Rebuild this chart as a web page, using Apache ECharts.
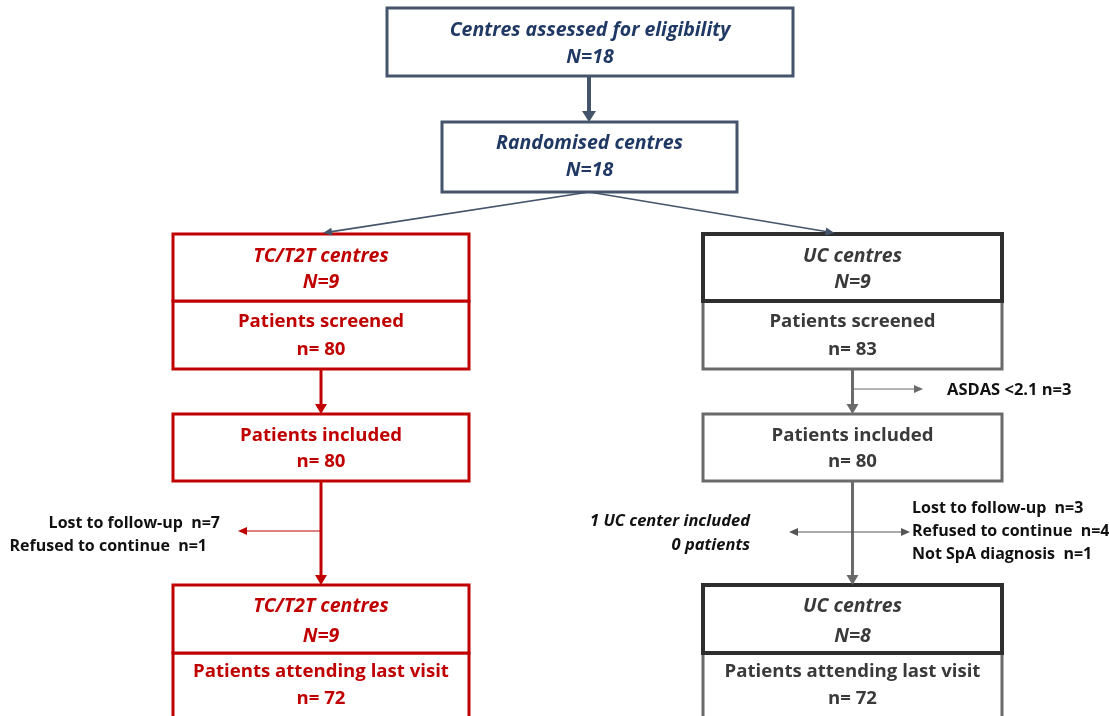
<!DOCTYPE html>
<html><head><meta charset="utf-8">
<script src="https://cdn.jsdelivr.net/npm/echarts@6/dist/echarts.min.js"></script>
<style>html,body{margin:0;padding:0;background:#fff}#c{width:1109px;height:716px}</style>
</head><body><div id="c"></div>
<script>
// ---- data ----
const topLabels = ['Centres assessed for eligibility', 'Randomised centres'];
const topCounts = [18, 18];
const armNames = ['TC/T2T centres', 'UC centres'];
const armCentresStart = [9, 9];
const armCentresEnd = [9, 8];
const stageLabels = ['Patients screened', 'Patients included', 'Patients attending last visit'];
const tcPatients = [80, 80, 72];
const ucPatients = [83, 80, 72];
const ucScreenExclLabels = ['ASDAS <2.1'];
const ucScreenExclCounts = [3];
const tcLossLabels = ['Lost to follow-up', 'Refused to continue'];
const tcLossCounts = [7, 1];
const ucLossLabels = ['Lost to follow-up', 'Refused to continue', 'Not SpA diagnosis'];
const ucLossCounts = [3, 4, 1];
const ucCentreNote = ['1 UC center included', '0 patients'];

// ---- styles ----
const FONT = '"Open Sans", Lato, sans-serif';
const NAVY = '#1f3864', SLATE = '#44546a', RED = '#c00000', DARK = '#2e2e2e', GREY = '#6a6a6a', TXT = '#3a3a3a';

const els = [];
function rect(x, y, w, h, stroke, lw) {
  els.push({type: 'rect', shape: {x, y, width: w, height: h}, style: {fill: '#fff', stroke, lineWidth: lw}, z: 1});
}
function text(t, x, y, color, size, opts) {
  opts = opts || {};
  els.push({type: 'text', z: 5, style: {text: t, x, y, fill: color,
    font: (opts.italic ? 'italic ' : '') + (opts.weight || 'bold') + ' ' + size + 'px ' + FONT,
    textAlign: opts.align || 'center', textVerticalAlign: 'middle'}});
}
function head(x, y, dx, dy, color, len, wid) {
  const L = Math.hypot(dx, dy), ux = dx / L, uy = dy / L, px = -uy, py = ux;
  const bx = x - ux * len, by = y - uy * len;
  els.push({type: 'polygon', z: 3, shape: {points: [[x, y], [bx + px * wid, by + py * wid], [bx - px * wid, by - py * wid]]},
    style: {fill: color}});
}
function arrow(x1, y1, x2, y2, color, lw, len, wid) {
  const L = Math.hypot(x2 - x1, y2 - y1);
  const ex = x2 - (x2 - x1) / L * len * 0.8, ey = y2 - (y2 - y1) / L * len * 0.8;
  els.push({type: 'line', z: 2, shape: {x1, y1, x2: ex, y2: ey}, style: {stroke: color, lineWidth: lw}});
  head(x2, y2, x2 - x1, y2 - y1, color, len, wid);
}

// ---- layout ----
const TOP = {x: 387, y: 8, w: 406, h: 68};
const RAND = {x: 442, y: 122, w: 295, h: 70};
const ARM_X = [173, 703], ARM_W = [296, 299];
const ROW = {armTop: 234, div1: 301, s1Bot: 369, incTop: 414, incBot: 481, endTop: 585, div2: 653, endBot: 760};
const cx = (i) => ARM_X[i] + ARM_W[i] / 2;
const BS = 18.6, IS = 19.5, SS = 16;

// top boxes
rect(TOP.x, TOP.y, TOP.w, TOP.h, SLATE, 3);
text(topLabels[0], TOP.x + TOP.w / 2, 30, NAVY, IS, {italic: true});
text('N=' + topCounts[0], TOP.x + TOP.w / 2, 57, NAVY, IS, {italic: true});
arrow(589, TOP.y + TOP.h + 1, 589, RAND.y, SLATE, 4, 11, 7);
rect(RAND.x, RAND.y, RAND.w, RAND.h, SLATE, 3);
text(topLabels[1], RAND.x + RAND.w / 2, 143, NAVY, IS, {italic: true});
text('N=' + topCounts[1], RAND.x + RAND.w / 2, 170, NAVY, IS, {italic: true});
arrow(589, RAND.y + RAND.h, cx(0) + 2, ROW.armTop - 1, SLATE, 1.6, 9, 4);
arrow(589, RAND.y + RAND.h, cx(1) - 18, ROW.armTop - 1, SLATE, 1.6, 9, 4);

// arms
const armData = [tcPatients, ucPatients];
const armColors = [
  {head: RED, body: RED, text: RED, headW: 3, bodyW: 3, arrow: RED},
  {head: DARK, body: GREY, text: TXT, headW: 4, bodyW: 3, arrow: GREY}
];
for (let i = 0; i < 2; i++) {
  const c = armColors[i], x = ARM_X[i], w = ARM_W[i], mx = cx(i), pts = armData[i];
  rect(x, ROW.div1, w, ROW.s1Bot - ROW.div1, c.body, c.bodyW);
  rect(x, ROW.armTop, w, ROW.div1 - ROW.armTop, c.head, c.headW);
  text(armNames[i], mx, 256, c.text, IS, {italic: true});
  text('N=' + armCentresStart[i], mx, 282, c.text, IS, {italic: true});
  text(stageLabels[0], mx, 322, c.text, BS);
  text('n= ' + pts[0], mx, 350, c.text, BS);
  arrow(mx, ROW.s1Bot, mx, ROW.incTop, c.arrow, 3, 10, 6);
  rect(x, ROW.incTop, w, ROW.incBot - ROW.incTop, c.body, c.bodyW);
  text(stageLabels[1], mx, 436, c.text, BS);
  text('n= ' + pts[1], mx, 462, c.text, BS);
  arrow(mx, ROW.incBot, mx, ROW.endTop, c.arrow, 3, 10, 6);
  rect(x, ROW.div2, w, ROW.endBot - ROW.div2, c.body, c.bodyW);
  rect(x, ROW.endTop, w, ROW.div2 - ROW.endTop, c.head, c.headW);
  text(armNames[i], mx, 606, c.text, IS, {italic: true});
  text('N=' + armCentresEnd[i], mx, 636, c.text, IS, {italic: true});
  text(stageLabels[2], mx, 672, c.text, BS);
  text('n= ' + pts[2], mx, 699, c.text, BS);
}

// TC losses
arrow(cx(0), 531, 238, 531, RED, 1, 9, 4);
text(tcLossLabels[0] + '  n=' + tcLossCounts[0], 220, 523, '#111', SS, {align: 'right'});
text(tcLossLabels[1] + '  n=' + tcLossCounts[1], 207, 546, '#111', SS, {align: 'right'});

// UC screening exclusion
arrow(cx(1), 389, 923, 389, GREY, 1, 9, 4);
text(ucScreenExclLabels[0] + ' n=' + ucScreenExclCounts[0], 947, 390, '#111', 16.5, {align: 'left'});

// UC losses / centre note
arrow(cx(1), 532, 789, 532, '#555', 1, 9, 4);
arrow(cx(1), 532, 910, 532, '#555', 1, 9, 4);
text(ucCentreNote[0], 750, 521, '#111', 16.5, {align: 'right', italic: true});
text(ucCentreNote[1], 750, 545, '#111', 16.5, {align: 'right', italic: true});
for (let k = 0; k < ucLossLabels.length; k++) {
  text(ucLossLabels[k] + '  n=' + ucLossCounts[k], 912, 508 + k * 23, '#111', SS, {align: 'left'});
}

const chart = echarts.init(document.getElementById('c'), null, {renderer: 'canvas'});
chart.setOption({animation: false, graphic: {elements: els}});
</script>
</body></html>
